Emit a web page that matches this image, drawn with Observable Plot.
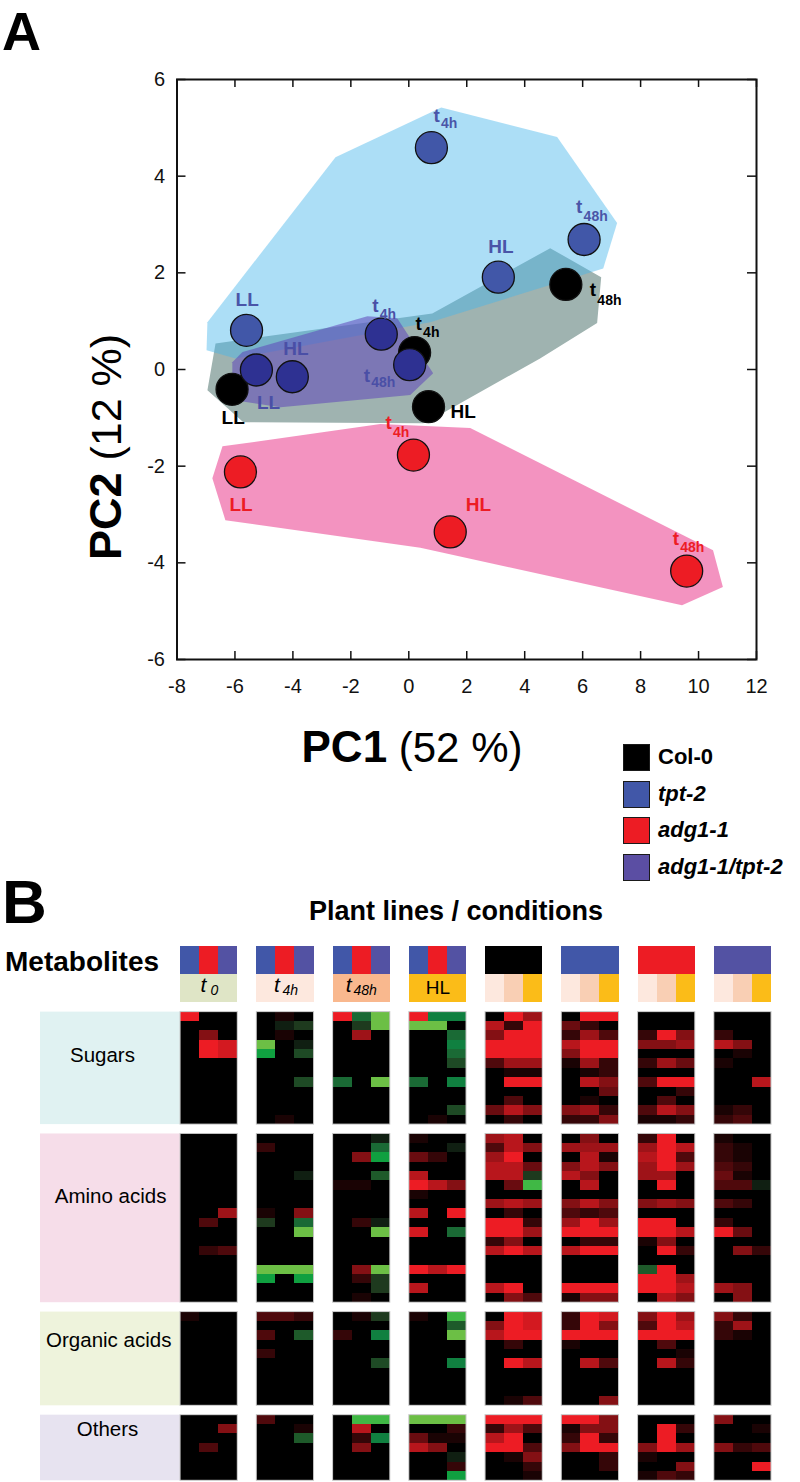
<!DOCTYPE html>
<html><head><meta charset="utf-8">
<script src="https://cdn.jsdelivr.net/npm/d3@7"></script>
<script src="https://cdn.jsdelivr.net/npm/@observablehq/plot@0.6"></script>
<style>
body{margin:0;background:#fff;font-family:"Liberation Sans",Arial,sans-serif;color:#000;}
#page{position:relative;width:800px;height:1482px;overflow:hidden;background:#fff;}
.abs{position:absolute;white-space:nowrap;line-height:1;}
.leg{position:absolute;left:623px;width:27px;height:27px;border:1.5px solid #1a1a1a;box-sizing:border-box;}
.legt{position:absolute;left:658px;font-size:22px;font-weight:bold;line-height:1;transform:translateY(-50%);white-space:nowrap;}
</style></head><body><div id="page"></div>
<script>
// ---------- Panel A data ----------
const genotypes = ["Col-0", "tpt-2", "adg1-1", "adg1-1/tpt-2"];
const conditions = ["LL", "HL", "t4h", "t48h"];
const col0PC1 = [-6.10, 0.68, 0.20, 5.42];
const col0PC2 = [-0.41, -0.77, 0.35, 1.76];
const tpt2PC1 = [-5.60, 3.09, 0.78, 6.05];
const tpt2PC2 = [0.81, 1.91, 4.59, 2.69];
const adg1PC1 = [-5.81, 1.43, 0.16, 9.59];
const adg1PC2 = [-2.12, -3.36, -1.77, -4.17];
const dblPC1 = [-5.26, -4.02, -0.95, 0.03];
const dblPC2 = [-0.01, -0.15, 0.73, 0.10];
const col0Hull = [[-6.95,-0.43],[-6.67,0.54],[0.81,1.16],[4.88,2.51],[6.64,1.91],[6.50,0.96],[4.53,0.23],[0.95,-0.98],[0.50,-1.11],[-5.71,-1.09]];
const tpt2Hull = [[-6.95,0.98],[-2.53,4.39],[1.12,5.42],[5.12,4.81],[7.19,3.03],[6.71,2.09],[0.74,0.98],[-5.98,0.23],[-6.98,0.40]];
const dblHull = [[-5.74,0.36],[-1.43,1.10],[-0.40,1.06],[0.84,-0.08],[0.05,-0.53],[-4.43,-0.78],[-6.09,-0.63],[-6.09,0.15]];
const adg1Hull = [[-6.78,-2.25],[-6.43,-1.59],[-0.98,-1.13],[2.12,-1.21],[10.50,-3.74],[10.84,-4.50],[9.43,-4.88],[0.40,-3.69],[-6.33,-3.12]];
const xTicks = [-8, -6, -4, -2, 0, 2, 4, 6, 8, 10, 12];
const yTicks = [-6, -4, -2, 0, 2, 4, 6];

// ---------- Panel B data (0 = black, 1..9 = red intensity, a..i = green intensity) ----------
const sugars = [
"900 010 9ei 9ff 096 099 000 000",
"000 0ab 0bi ii0 729 420 000 000",
"050 010 060 00e 599 263 295 200",
"098 i0a 000 00f 999 799 556 750",
"098 g0c 000 00e 999 599 000 010",
"000 000 000 00c 366 162 264 100",
"000 000 000 000 011 012 000 000",
"000 00c e0i e0f 099 075 399 007",
"000 000 000 000 000 004 002 000",
"000 000 000 000 030 010 030 000",
"000 000 000 00c 475 562 375 120",
"000 010 000 010 020 225 112 230"];
const aminoAcids = [
"000 000 00a 100 670 050 290 100",
"000 200 00e 00a 375 666 697 210",
"000 000 05g 420 690 071 793 210",
"000 000 000 000 774 575 696 320",
"000 00a 00d 700 77b 750 660 410",
"000 000 110 975 04h 070 090 33a",
"000 000 000 100 000 000 000 000",
"000 000 000 000 676 575 565 320",
"006 105 000 709 020 323 000 000",
"030 b0e 02a 000 992 696 990 200",
"000 00i 00i 80e 996 999 997 940",
"000 000 000 000 250 022 150 000",
"023 000 000 000 797 799 092 052",
"000 000 000 000 000 000 000 000",
"000 iii 05i 979 000 000 d90 000",
"000 g0g 02b 000 000 000 996 000",
"000 000 00b 700 790 999 997 650",
"000 000 010 000 053 155 075 050"];
const organicAcids = [
"100 332 01b 10h 098 298 596 520",
"000 000 000 00d 598 295 397 260",
"000 30d 20f 00i 799 999 999 210",
"000 000 000 000 020 100 030 000",
"000 200 000 000 000 000 001 000",
"000 000 00c 00f 097 073 072 000",
"000 000 000 000 000 000 000 000",
"000 000 000 000 000 000 000 000",
"000 000 000 000 000 000 000 000",
"000 000 000 000 013 005 000 000"];
const others = [
"000 300 0hh iii 999 995 000 500",
"005 001 070 002 263 155 092 001",
"000 00d 02f 411 790 292 090 000",
"030 000 050 750 993 599 596 523",
"000 000 000 00a 015 002 100 000",
"000 000 000 002 002 002 005 009",
"000 000 000 00g 001 000 132 000"];
const categoryNames = ["Sugars", "Amino acids", "Organic acids", "Others"];
const blockGenotypes = [
 ["tpt-2","adg1-1","adg1-1/tpt-2"], ["tpt-2","adg1-1","adg1-1/tpt-2"],
 ["tpt-2","adg1-1","adg1-1/tpt-2"], ["tpt-2","adg1-1","adg1-1/tpt-2"],
 ["Col-0","Col-0","Col-0"], ["tpt-2","tpt-2","tpt-2"],
 ["adg1-1","adg1-1","adg1-1"], ["adg1-1/tpt-2","adg1-1/tpt-2","adg1-1/tpt-2"]];
const blockConditions = [["t0"], ["t4h"], ["t48h"], ["HL"],
 ["t4h","t48h","HL"], ["t4h","t48h","HL"], ["t4h","t48h","HL"], ["t4h","t48h","HL"]];

// ---------- styles ----------
const FONT = "Liberation Sans, Arial, sans-serif";
const pointColors = ["#000000", "#4157a8", "#ed1c24", "#2e3192"];
const labelColors = {"Col-0":"#000000","tpt-2":"#4a55a8","adg1-1":"#ed1c24","adg1-1/tpt-2":"#4a4fa6"};
const headerGenoColors = {"Col-0":"#000000","tpt-2":"#4157a8","adg1-1":"#ed1c24","adg1-1/tpt-2":"#5352a3"};
const condColorsWide = {t0:"#dfe5c6", t4h:"#fde8de", t48h:"#f9b88e", HL:"#fbbc18"};
const condColorsNarrow = {t4h:"#fde8de", t48h:"#f9cfb4", HL:"#fbbc18"};
const catColors = ["#e0f2f2", "#f6dde9", "#eef3dc", "#e7e3f0"];
// label offsets in px: [dx, dy] or [dx, dyMain, dySub]
const labelOffset = {
 "tpt-2|LL":[-11,-30], "tpt-2|HL":[-10,-30], "tpt-2|t4h":[2,-31.5,-24], "tpt-2|t48h":[-8,-33,-23],
 "Col-0|LL":[-10.5,28.5], "Col-0|t4h":[1,-29,-20], "Col-0|HL":[22,5.5], "Col-0|t48h":[24,5,16],
 "adg1-1/tpt-2|LL":[0.5,33], "adg1-1/tpt-2|HL":[-9,-28], "adg1-1/tpt-2|t4h":[-9,-28,-20], "adg1-1/tpt-2|t48h":[-46,11,18],
 "adg1-1|LL":[-11,33], "adg1-1|t4h":[-28,-32,-23], "adg1-1|HL":[15.5,-27], "adg1-1|t48h":[-14,-32,-24]
};

const page = document.getElementById("page");
function addHTML(html){ const d=document.createElement("div"); d.innerHTML=html; while(d.firstChild) page.appendChild(d.firstChild); }
function place(el, left, top){ el.style.position="absolute"; el.style.left=left+"px"; el.style.top=top+"px"; page.appendChild(el); }

// ---------- Panel A ----------
const pcs = [[col0PC1,col0PC2],[tpt2PC1,tpt2PC2],[adg1PC1,adg1PC2],[dblPC1,dblPC2]];
const points = [];
genotypes.forEach((g,gi)=>conditions.forEach((c,ci)=>points.push({genotype:g, condition:c, pc1:pcs[gi][0][ci], pc2:pcs[gi][1][ci]})));

const W_A=800, H_A=700, mL=176.5, mR=44, mT=79, mB=41;
const frameW = W_A-mL-mR, frameH = H_A-mT-mB;
const hullStyle = [
 [col0Hull, "#9fb3b0", 1],
 [tpt2Hull, "#47b6ea", 0.45],
 [dblHull, "#5f46b9", 0.55],
 [adg1Hull, "#eb4b96", 0.6]
];
const marksA = [];
hullStyle.forEach(([h,f,o])=>marksA.push(Plot.line(h,{x:d=>d[0], y:d=>d[1], curve:"linear-closed", fill:f, fillOpacity:o, stroke:"none"})));
marksA.push(
 Plot.frame({stroke:"#111", strokeWidth:2}),
 Plot.tickX(xTicks,{x:d=>d, insetTop:frameH-8, stroke:"#111", strokeWidth:1.5}),
 Plot.tickX(xTicks,{x:d=>d, insetBottom:frameH-8, stroke:"#111", strokeWidth:1.5}),
 Plot.tickY(yTicks,{y:d=>d, insetRight:frameW-9, stroke:"#111", strokeWidth:1.5}),
 Plot.tickY(yTicks,{y:d=>d, insetLeft:frameW-9, stroke:"#111", strokeWidth:1.5}),
 Plot.axisX(xTicks,{anchor:"bottom", tickSize:0, tickPadding:19, tickFormat:d=>String(d), label:null}),
 Plot.axisY(yTicks,{anchor:"left", tickSize:0, tickPadding:12, tickFormat:d=>String(d), label:null}),
 Plot.dot(points,{x:"pc1", y:"pc2", r:16, fill:"genotype", stroke:"#111", strokeWidth:1.3})
);
points.forEach(p=>{
 const off = labelOffset[p.genotype+"|"+p.condition];
 const sub = p.condition.startsWith("t") ? p.condition.slice(1) : "";
 const main = sub ? "t" : p.condition;
 const col = labelColors[p.genotype];
 marksA.push(Plot.text([p],{x:"pc1", y:"pc2", text:()=>main, dx:off[0], dy:off[1], textAnchor:"start", fill:col, fontSize:19, fontWeight:"bold"}));
 if (sub) marksA.push(Plot.text([p],{x:"pc1", y:"pc2", text:()=>sub, dx:off[0]+7.5, dy:off[2], textAnchor:"start", fill:col, fontSize:14, fontWeight:"bold"}));
});
const plotA = Plot.plot({
 width:W_A, height:H_A, marginLeft:mL, marginRight:mR, marginTop:mT, marginBottom:mB,
 x:{domain:[-8,12], axis:null}, y:{domain:[-6,6], axis:null},
 color:{domain:genotypes, range:pointColors},
 style:{fontFamily:FONT, fontSize:"20px", background:"transparent", color:"#111"},
 marks:marksA
});
place(plotA, 0, 0);

// ---------- Panel B ----------
function decode(ch){ return (ch>="0" && ch<="9") ? (+ch)/9 : -(ch.charCodeAt(0)-96)/9; }
const catRows = [sugars, aminoAcids, organicAcids, others];
const cats = []; let off = 0;
catRows.forEach((rows,i)=>{ cats.push({name:categoryNames[i], start:off, end:off+rows.length, fill:catColors[i]}); off += rows.length+1; });
const yEnd = off-1;
const cells = [];
catRows.forEach((rows,ci)=>rows.forEach((s,r)=>{
 const t = s.replace(/ /g,"");
 for (let k=0;k<24;k++){ const b=Math.floor(k/3), j=k%3;
  cells.push({x1:b*4+j, x2:b*4+j+1, y1:cats[ci].start+r, y2:cats[ci].start+r+1, v:decode(t[k])}); }
}));
const frames = [];
cats.forEach(c=>{ for(let b=0;b<8;b++) frames.push({x1:b*4, x2:b*4+3, y1:c.start, y2:c.end}); });
const xLeft = -7.35;
const greens = ["#6cbf45","#40b845","#10a040","#108040","#1a6a35","#1e5a2a","#1e4a25","#1e3a1e","#101f12"];
const colorDomain = [-1,-8/9,-7/9,-6/9,-5/9,-4/9,-3/9,-2/9,-1/9,0,1];
const colorRange = [...greens, "#000000", "#ed1c24"];

const marksB = [];
cats.forEach((c,i)=>marksB.push(Plot.rect([c],{x1:()=>xLeft, x2:()=>0, y1:"start", y2:"end", fill:c.fill})));
marksB.push(Plot.rect(cells,{x1:"x1", x2:"x2", y1:"y1", y2:"y2", fill:"v", shapeRendering:"crispEdges"}));
marksB.push(Plot.rect(frames,{x1:"x1", x2:"x2", y1:"y1", y2:"y2", fill:"none", stroke:"#c4c4c4", strokeWidth:1}));
// header
blockGenotypes.forEach((gs,b)=>gs.forEach((g,j)=>{
 marksB.push(Plot.rect([{b,j}],{x1:d=>d.b*4+d.j, x2:d=>d.b*4+d.j+1, y1:()=>-7, y2:()=>-4, fill:headerGenoColors[g], shapeRendering:"crispEdges"}));
}));
blockConditions.forEach((cs,b)=>{
 const w = 3/cs.length;
 cs.forEach((c,j)=>{
  const col = cs.length===1 ? condColorsWide[c] : condColorsNarrow[c];
  marksB.push(Plot.rect([{b,j}],{x1:d=>d.b*4+d.j*w, x2:d=>d.b*4+(d.j+1)*w, y1:()=>-4, y2:()=>-1, fill:col, shapeRendering:"crispEdges"}));
 });
 if (cs.length===1){
  const c = cs[0];
  const sub = c.startsWith("t") ? c.slice(1) : "";
  const main = sub ? "t" : c;
  const lay = {t0:[-8.6,1.4], t4h:[-11.5,-3], t48h:[-16,-8.3], HL:[0,0]}[c];
  if (sub){
   marksB.push(Plot.text([b],{x:d=>d*4+1.5, y:()=>-2.5, text:()=>main, dx:lay[0], dy:-3, textAnchor:"start", fontSize:21, fontStyle:"italic"}));
   marksB.push(Plot.text([b],{x:d=>d*4+1.5, y:()=>-2.5, text:()=>sub, dx:lay[1], dy:2, textAnchor:"start", fontSize:14, fontStyle:"italic"}));
  } else {
   marksB.push(Plot.text([b],{x:d=>d*4+1.5, y:()=>-2.5, text:()=>main, dy:-1, fontSize:19}));
  }
 }
});
const labelX = [-4.1, -3.67, -3.77, -3.83];
const labelRow = [4.6, 6.7, 3.0, 1.5];
cats.forEach((c,i)=>marksB.push(Plot.text([c],{x:()=>labelX[i], y:d=>d.start+labelRow[i], text:"name", fontSize:20.5})));

const plotB = Plot.plot({
 width:800, height:552, marginTop:16, marginBottom:1.7, marginLeft:40, marginRight:29,
 x:{domain:[xLeft,31], axis:null}, y:{domain:[-7,yEnd], reverse:true, axis:null},
 color:{type:"linear", domain:colorDomain, range:colorRange, interpolate:"rgb"},
 style:{fontFamily:FONT, background:"transparent", color:"#000"},
 marks:marksB
});
place(plotB, 0, 930);

// ---------- HTML text ----------
addHTML(`<div class="abs" style="left:2px;top:0px;font-size:54px;font-weight:bold;line-height:normal;">A</div>`);
addHTML(`<div class="abs" style="left:412px;top:747px;transform:translate(-50%,-50%);"><span style="font-size:44px;font-weight:bold;">PC1</span><span style="font-size:42px;"> (52 %)</span></div>`);
addHTML(`<div class="abs" style="left:105px;top:560px;transform-origin:0 0;transform:rotate(-90deg) translateY(-50%);"><span style="font-size:45px;font-weight:bold;">PC2</span><span style="font-size:43px;"> (12 %)</span></div>`);
const legY = [757, 794, 830, 867];
genotypes.forEach((g,i)=>{
 addHTML(`<div class="leg" style="top:${legY[i]-13.5}px;background:${i===3?'#5b4ea3':pointColors[i]};"></div>`);
 addHTML(`<div class="legt" style="top:${legY[i]}px;${i>0?'font-style:italic;':''}">${g}</div>`);
});
addHTML(`<div class="abs" style="left:2px;top:866px;font-size:62px;font-weight:bold;line-height:normal;">B</div>`);
addHTML(`<div class="abs" style="left:456px;top:911px;transform:translate(-50%,-50%);font-size:27px;font-weight:bold;">Plant lines / conditions</div>`);
addHTML(`<div class="abs" style="left:5px;top:962px;transform:translateY(-50%);font-size:28px;font-weight:bold;">Metabolites</div>`);
</script></body></html>
